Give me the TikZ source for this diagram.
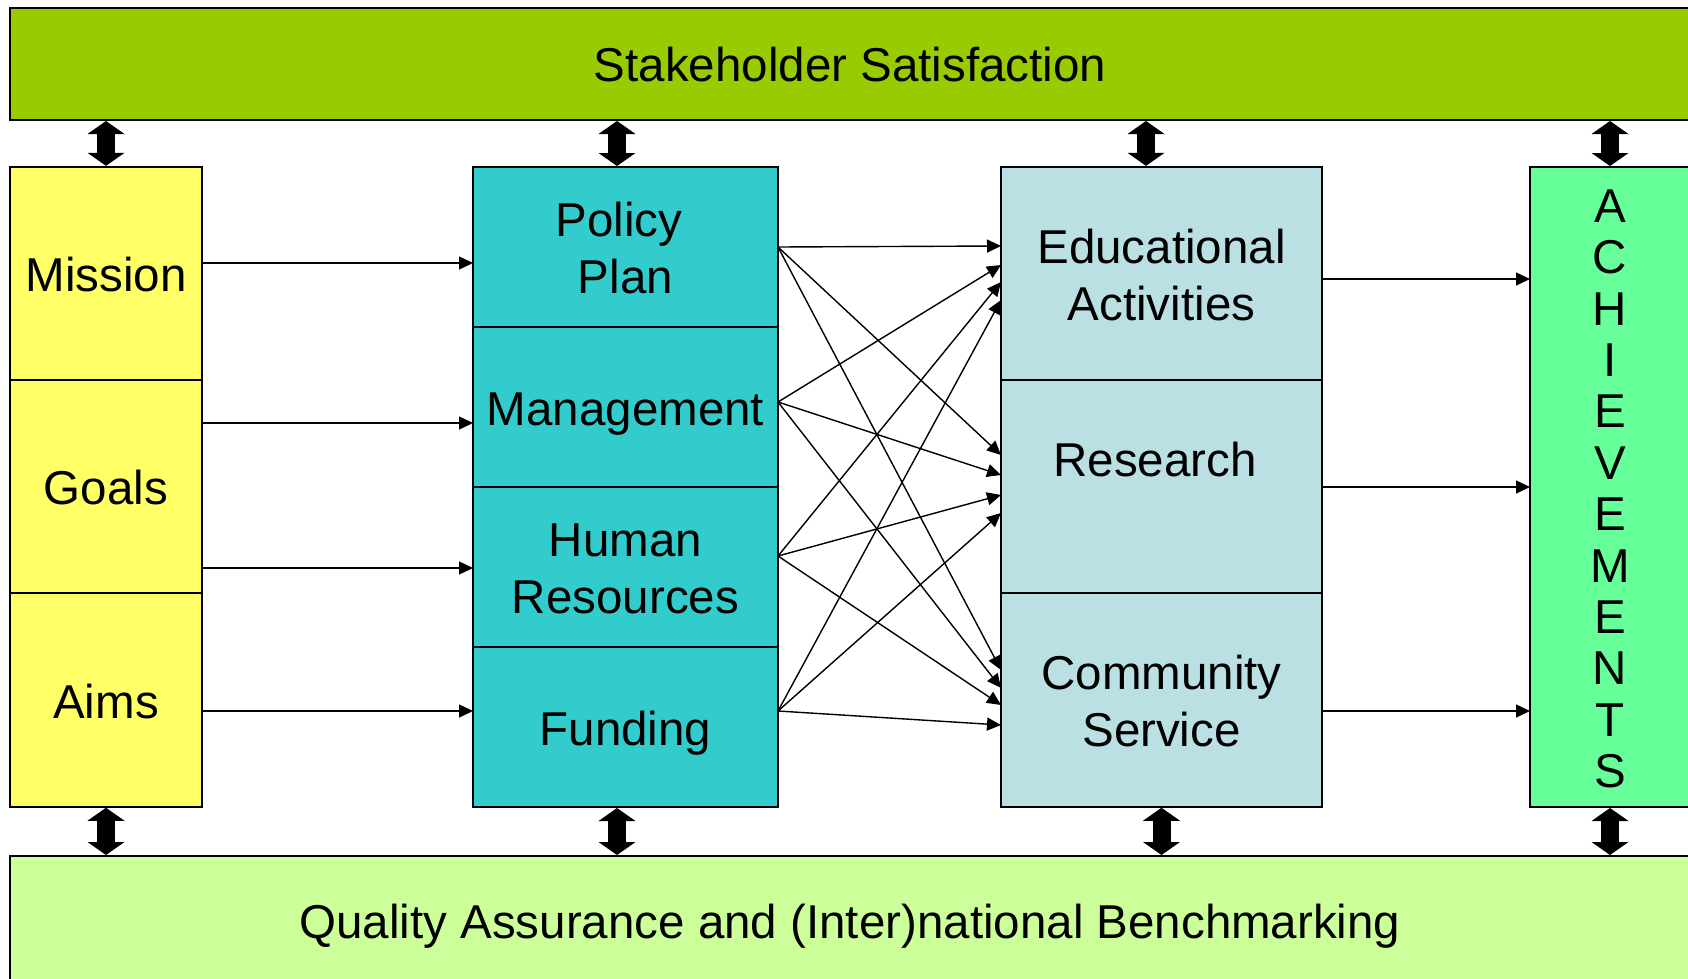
\documentclass[tikz,border=0pt]{standalone}
\usepackage{fontspec}
\setmainfont{Liberation Sans}
\usetikzlibrary{arrows.meta}
\definecolor{stakegreen}{HTML}{99CC00}
\definecolor{aimyellow}{HTML}{FFFF66}
\definecolor{policyteal}{HTML}{33CCCC}
\definecolor{actblue}{HTML}{BBE0E3}
\definecolor{achgreen}{HTML}{66FF99}
\definecolor{qualgreen}{HTML}{CCFF99}
\newcommand{\cellstrut}{\rule[-10.5pt]{0pt}{57pt}}
\tikzset{cell/.style={draw,line width=2pt,inner sep=0pt,align=center,font=\fontsize{47.5}{57}\selectfont,
    execute at begin node=\cellstrut,execute at end node=\cellstrut}}
\tikzset{link/.style={line width=1.4pt,-{Triangle[length=14pt,width=13pt]}}}
\tikzset{both/.style={line width=18pt,{Triangle[length=13pt,width=37pt,line width=0pt]}-{Triangle[length=13pt,width=37pt,line width=0pt]}}}

\begin{document}
\begin{tikzpicture}[x=1pt,y=-1pt]
    \useasboundingbox (0,0) rectangle (1688,979);
    \clip (0,0) rectangle (1688,979);
    \node[cell,fill=stakegreen,minimum width=1680,minimum height=112] (stake) at (850,64) {Stakeholder Satisfaction};
    \node[cell,fill=qualgreen,minimum width=1680,minimum height=129] (quality) at (850,920.5) {Quality Assurance and (Inter)national Benchmarking};
    \node[cell,fill=aimyellow,minimum width=192,minimum height=213.3] (mission) at (106,273.5) {Mission};
    \node[cell,fill=aimyellow,minimum width=192,minimum height=213.3] (goals) at (106,486.8) {Goals};
    \node[cell,fill=aimyellow,minimum width=192,minimum height=213.3] (aims) at (106,700.1) {Aims};
    \node[cell,fill=policyteal,minimum width=305,minimum height=160] (policy) at (625.5,247) {\cellstrut Policy\kern13pt\\Plan};
    \node[cell,fill=policyteal,minimum width=305,minimum height=160] (management) at (625.5,407) {Management};
    \node[cell,fill=policyteal,minimum width=305,minimum height=160] (human) at (625.5,567) {\cellstrut Human\\Resources};
    \node[cell,fill=policyteal,minimum width=305,minimum height=160] (funding) at (625.5,727) {Funding};
    \node[cell,fill=actblue,minimum width=321,minimum height=213.3] (edu) at (1161.5,273.5) {\cellstrut Educational\\Activities};
    \node[cell,fill=actblue,minimum width=321,minimum height=213.3] (research) at (1161.5,486.8) {\cellstrut Research\kern13pt\\\mbox{}};
    \node[cell,fill=actblue,minimum width=321,minimum height=213.3] (community) at (1161.5,700.1) {\cellstrut Community\\Service};
    \node[cell,fill=achgreen,minimum width=160,minimum height=640,font=\fontsize{47.5}{51.4}\selectfont] (ach) at (1610,487) {\cellstrut A\\C\\H\\I\\E\\V\\E\\M\\E\\N\\T\\S};
    % links with the two bars
    \draw[both] (stake.south -| mission.north) -- (mission.north);
    \draw[both] ([xshift=-8.5pt]policy.north |- stake.south) -- ([xshift=-8.5pt]policy.north);
    \draw[both] ([xshift=-15.5pt]edu.north |- stake.south) -- ([xshift=-15.5pt]edu.north);
    \draw[both] (stake.south -| ach.north) -- (ach.north);
    \draw[both] (aims.south) -- (quality.north -| aims.south);
    \draw[both] ([xshift=-8.5pt]funding.south) -- ([xshift=-8.5pt]funding.south |- quality.north);
    \draw[both] (community.south) -- (quality.north -| community.south);
    \draw[both] (ach.south) -- (quality.north -| ach.south);
    % aims to policy
    \coordinate (m1) at (473,263);
    \coordinate (g1) at (473,423);
    \coordinate (g2) at (473,568);
    \coordinate (a1) at (473,711);
    \draw[link] (mission.east |- m1) -- (m1);
    \draw[link] (goals.east |- g1) -- (g1);
    \draw[link] (goals.east |- g2) -- (g2);
    \draw[link] (aims.east |- a1) -- (a1);
    % policy to activities
    \coordinate (s1) at (778,247);
    \coordinate (s2) at (778,402);
    \coordinate (s3) at (778,556);
    \coordinate (s4) at (778,711);
    \coordinate (e1) at (1001,246);
    \coordinate (e2) at (1001,265);
    \coordinate (e3) at (1001,282);
    \coordinate (e4) at (1001,300);
    \coordinate (r1) at (1001,455);
    \coordinate (r2) at (1001,475);
    \coordinate (r3) at (1001,495);
    \coordinate (r4) at (1001,513);
    \coordinate (c1) at (1001,670);
    \coordinate (c2) at (1001,688);
    \coordinate (c3) at (1001,705);
    \coordinate (c4) at (1001,725);
    \draw[link] (s1) -- (e1);
    \draw[link] (s1) -- (r1);
    \draw[link] (s1) -- (c1);
    \draw[link] (s2) -- (e2);
    \draw[link] (s2) -- (r2);
    \draw[link] (s2) -- (c2);
    \draw[link] (s3) -- (e3);
    \draw[link] (s3) -- (r3);
    \draw[link] (s3) -- (c3);
    \draw[link] (s4) -- (e4);
    \draw[link] (s4) -- (r4);
    \draw[link] (s4) -- (c4);
    % activities to achievements
    \coordinate (o1) at (1530,279);
    \coordinate (o2) at (1530,487);
    \coordinate (o3) at (1530,711);
    \draw[link] (edu.east |- o1) -- (o1);
    \draw[link] (research.east |- o2) -- (o2);
    \draw[link] (community.east |- o3) -- (o3);
  \end{tikzpicture}
\end{document}
